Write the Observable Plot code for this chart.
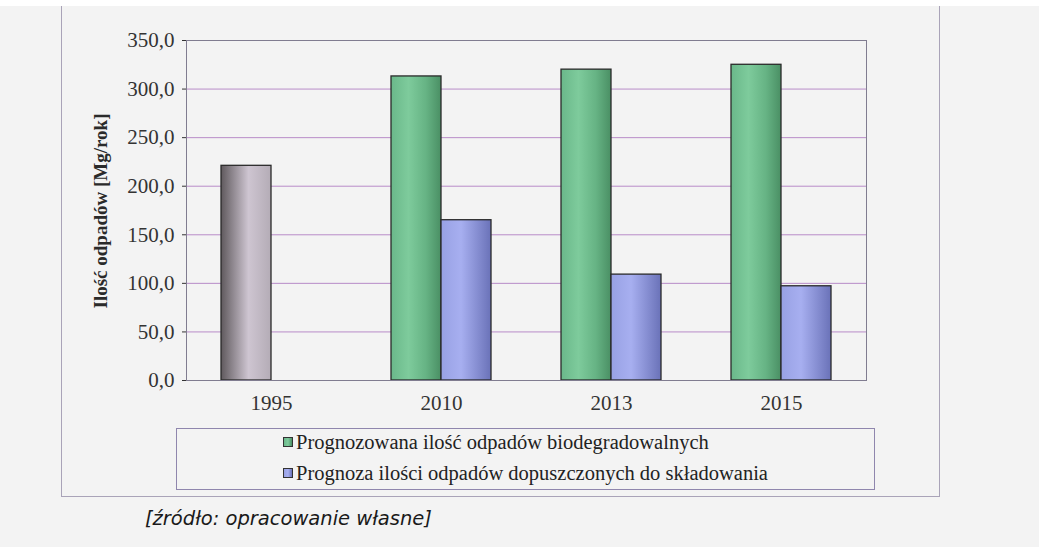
<!DOCTYPE html>
<html>
<head>
<meta charset="utf-8">
<script src="https://cdn.jsdelivr.net/npm/d3@7"></script>
<script src="https://cdn.jsdelivr.net/npm/@observablehq/plot@0.6"></script>
<style>
  html, body { margin: 0; padding: 0; }
  body { width: 1039px; height: 547px; background: #f3f3f3; position: relative; overflow: hidden; font-family: "Liberation Serif", serif; }
  #strip { position: absolute; left: 0; top: 0; width: 1039px; height: 6px; background: #ffffff; }
  #outer { position: absolute; left: 61px; top: 6px; width: 877px; height: 490px; border: 1px solid #a9a3b8; border-top: none; box-sizing: content-box; }
  #chart { position: absolute; left: 61px; top: 0px; }
  #ylabel { position: absolute; left: 101px; top: 211px; transform: translate(-50%, -50%) rotate(-90deg); white-space: nowrap; font-weight: bold; font-size: 19px; color: #2a2a2a; }
  #legend { position: absolute; left: 176px; top: 428px; width: 697px; height: 60px; border: 1px solid #8f86ad; }
  .item { position: absolute; left: 106px; display: flex; align-items: center; font-size: 20.5px; line-height: 22px; color: #222; white-space: nowrap; }
  .sw { width: 8px; height: 8px; border: 1px solid #333; margin-right: 3px; }
  #caption { position: absolute; left: 145px; top: 507px; font-family: "DejaVu Sans", sans-serif; font-style: italic; font-size: 19.5px; color: #1a1a1a; white-space: nowrap; }
</style>
</head>
<body>
<div id="strip"></div>
<div id="outer"></div>
<div id="chart"></div>
<div id="ylabel"></div>
<div id="legend"></div>
<div id="caption"></div>
<script>
// ---- data ----
const years = ["1995", "2010", "2013", "2015"];
const seriesNames = [
  "Prognozowana ilość odpadów biodegradowalnych",
  "Prognoza ilości odpadów dopuszczonych do składowania"
];
const biodegradable = [221, 313, 320, 325];      // 1995 value shown in grey (actual)
const landfillAllowed = [null, 165, 109, 97];
const yTicks = [0, 50, 100, 150, 200, 250, 300, 350];
const yTitle = "Ilość odpadów [Mg/rok]";
const captionText = "[źródło: opracowanie własne]";

// ---- table ----
const rows = [];
years.forEach((yr, i) => {
  if (biodegradable[i] != null) rows.push({year: yr, series: seriesNames[0], value: biodegradable[i],
    fill: yr === "1995" ? "url(#gGray)" : "url(#gGreen)"});
  if (landfillAllowed[i] != null) rows.push({year: yr, series: seriesNames[1], value: landfillAllowed[i], fill: "url(#gBlue)"});
});

const fmt = d => d.toFixed(1).replace(".", ",");

const plot = Plot.plot({
  width: 878,
  height: 425,
  marginLeft: 124,
  marginRight: 73,
  marginTop: 40,
  marginBottom: 45,
  style: {background: "transparent", fontFamily: "Liberation Serif, serif", color: "#333"},
  fx: {domain: years, padding: 0, label: null},
  x: {domain: seriesNames, paddingInner: 0, paddingOuter: 0.7, axis: null},
  y: {domain: [0, 350], label: null},
  color: {type: "identity"},
  marks: [
    Plot.ruleY(yTicks, {stroke: "#b88cc8", strokeWidth: 1}),
    Plot.barY(rows, {fx: "year", x: "series", y: "value", fill: "fill", stroke: "#2a2a2a", strokeWidth: 1.3}),
    Plot.frame({facet: "super", stroke: "#807c90"}),
    Plot.axisY({ticks: yTicks, tickFormat: fmt, tickSize: 4, tickPadding: 8, fontSize: 21, label: null}),
    Plot.axisFx({anchor: "bottom", tickSize: 0, tickPadding: 15, fontSize: 21, label: null})
  ]
});

const svg = d3.select(plot);
const defs = svg.insert("defs", ":first-child");
function grad(id, stops) {
  const g = defs.append("linearGradient").attr("id", id).attr("x1", 0).attr("x2", 1).attr("y1", 0).attr("y2", 0);
  stops.forEach(([o, c]) => g.append("stop").attr("offset", o).attr("stop-color", c));
}
grad("gGray", [[0, "#5f595d"], [0.55, "#cec5d1"], [1, "#b4acb6"]]);
grad("gGreen", [[0, "#6ab88a"], [0.35, "#7ecb9c"], [0.7, "#66b384"], [1, "#4a8f64"]]);
grad("gBlue", [[0, "#98a1e4"], [0.4, "#a7aff0"], [1, "#6a72b8"]]);

document.getElementById("chart").appendChild(plot);
document.getElementById("ylabel").textContent = yTitle;
document.getElementById("caption").textContent = captionText;

const legend = document.getElementById("legend");
const swatchBg = [
  "linear-gradient(90deg, #6ab88a, #7ecb9c, #4a8f64)",
  "linear-gradient(90deg, #98a1e4, #a7aff0, #6a72b8)"
];
seriesNames.forEach((name, i) => {
  const item = document.createElement("div");
  item.className = "item";
  item.style.top = (i === 0 ? 2 : 33) + "px";
  const sw = document.createElement("span");
  sw.className = "sw";
  sw.style.background = swatchBg[i];
  const t = document.createElement("span");
  t.textContent = name;
  item.appendChild(sw);
  item.appendChild(t);
  legend.appendChild(item);
});
</script>
</body>
</html>
